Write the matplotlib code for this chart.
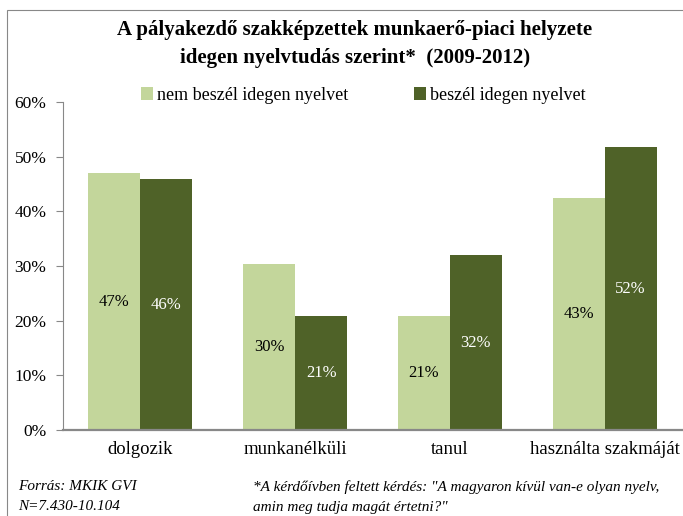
"""Pályakezdő szakképzettek munkaerő-piaci helyzete idegen nyelvtudás szerint."""

import numpy as np
import matplotlib.pyplot as plt
from matplotlib.patches import Rectangle
from matplotlib.ticker import MultipleLocator, FuncFormatter

categories = ["dolgozik", "munkanélküli", "tanul", "használta szakmáját"]
series_names = ["nem beszél idegen nyelvet", "beszél idegen nyelvet"]
no_language = [47.0, 30.4, 20.9, 42.5]
with_language = [45.9, 20.8, 32.0, 51.7]
labels_no = ["47%", "30%", "21%", "43%"]
labels_with = ["46%", "21%", "32%", "52%"]

LIGHT = "#C3D69B"
DARK = "#4F6228"
plt.rcParams["font.family"] = ["Liberation Serif", "DejaVu Serif"]

W, H = 683, 516
fig = plt.figure(figsize=(W / 100, H / 100), dpi=100)
fig.patches.append(Rectangle((7 / W, -0.01), 1.0, (H - 10) / H + 0.01,
                             transform=fig.transFigure, fill=False,
                             edgecolor="#888888", linewidth=0.8))

ax = fig.add_axes([63 / W, (H - 430) / H, 619 / W, (430 - 102) / H])
x = np.arange(len(categories))
width = 0.336
b1 = ax.bar(x - width / 2, no_language, width, color=LIGHT, label=series_names[0])
b2 = ax.bar(x + width / 2, with_language, width, color=DARK, label=series_names[1])

for rect, lab in zip(b1, labels_no):
    ax.text(rect.get_x() + rect.get_width() / 2, rect.get_height() / 2, lab,
            ha="center", va="center", fontsize=12, color="black")
for rect, lab in zip(b2, labels_with):
    ax.text(rect.get_x() + rect.get_width() / 2, rect.get_height() / 2, lab,
            ha="center", va="center", fontsize=12, color="white")

ax.set_xlim(-0.5, len(categories) - 0.5)
ax.set_ylim(0, 60)
ax.yaxis.set_major_locator(MultipleLocator(10))
ax.yaxis.set_major_formatter(FuncFormatter(lambda v, _: f"{v:.0f}%"))
ax.set_xticks(x)
ax.set_xticklabels(categories, fontsize=13.5)
ax.tick_params(axis="x", length=0, pad=8)
ax.tick_params(axis="y", labelsize=12.5, length=5, color="#888888", pad=7)
for side in ("top", "right"):
    ax.spines[side].set_visible(False)
for side in ("left", "bottom"):
    ax.spines[side].set_color("#888888")
ax.spines["bottom"].set_linewidth(1.6)

ax.legend(loc="center", bbox_to_anchor=(0.485, 1.02), ncol=2, frameon=False,
          fontsize=13, handlelength=0.67, handleheight=0.67, handletextpad=0.25,
          columnspacing=3.6)

fig.text(355 / W, 1 - 30 / H, "A pályakezdő szakképzettek munkaerő-piaci helyzete",
         ha="center", va="center", fontsize=15, fontweight="bold")
fig.text(355 / W, 1 - 58 / H, "idegen nyelvtudás szerint*  (2009-2012)",
         ha="center", va="center", fontsize=15, fontweight="bold")

fig.text(18 / W, 1 - 487 / H, "Forrás: MKIK GVI", fontsize=11, style="italic", va="center")
fig.text(18 / W, 1 - 507 / H, "N=7.430-10.104", fontsize=11, style="italic", va="center")
fig.text(253 / W, 1 - 487 / H,
         '*A kérdőívben feltett kérdés: "A magyaron kívül van-e olyan nyelv,',
         fontsize=11, style="italic", va="center")
fig.text(253 / W, 1 - 507 / H, 'amin meg tudja magát értetni?"',
         fontsize=11, style="italic", va="center")

fig.savefig("out.png", dpi=100)
